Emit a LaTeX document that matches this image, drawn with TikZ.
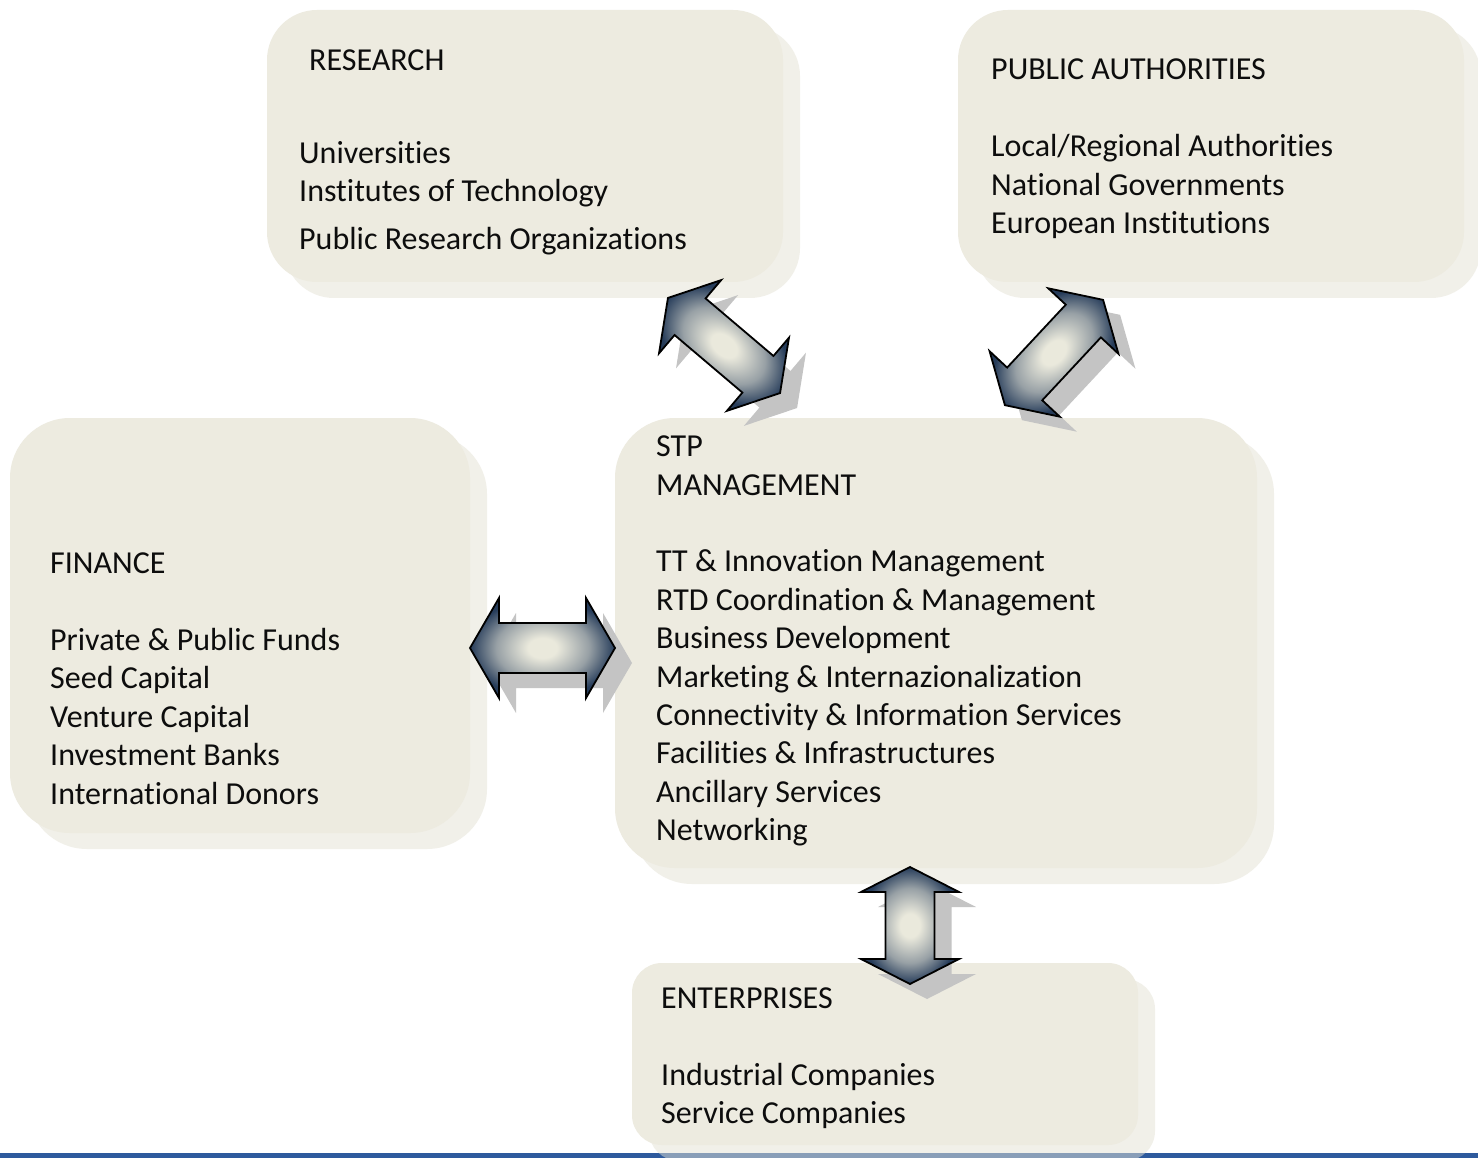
\documentclass[tikz,border=0pt]{standalone}
\usepackage{fontspec}
\setmainfont{Carlito}[RawFeature={-liga;-clig;-calt;-dlig}]
\usetikzlibrary{shadows}
\definecolor{boxfill}{HTML}{EDEBE0}
\definecolor{boxshadow}{HTML}{E4E2D4}
\definecolor{anavy}{HTML}{263C5A}
\definecolor{acream}{HTML}{EAE9DC}
\definecolor{ashadow}{HTML}{C4C4C4}
\definecolor{bluebar}{HTML}{2E5A9D}
\definecolor{txtc}{HTML}{0D0D0D}
\colorlet{amid}{anavy!42!acream}
\pgfdeclareradialshading{arrshade}{\pgfpointorigin}{color(0bp)=(acream); color(5bp)=(acream); color(16bp)=(amid); color(25bp)=(anavy); color(50bp)=(anavy)}
% #1 cx, #2 cy, #3 angle, #4 half length, #5 head length, #6 head half width, #7 shaft half width
\newcommand\blockarrow[7]{%
  \begin{scope}[transform canvas={shift={(#1+17,#2+15)},rotate=#3}]
    \fill[ashadow] (-#4,0) -- (-#4+#5,#6) -- (-#4+#5,#7) -- (#4-#5,#7) -- (#4-#5,#6) -- (#4,0)
      -- (#4-#5,-#6) -- (#4-#5,-#7) -- (-#4+#5,-#7) -- (-#4+#5,-#6) -- cycle;
  \end{scope}
  \begin{scope}[transform canvas={shift={(#1,#2)},rotate=#3}]
    \shade[shading=arrshade, draw=black, line width=1.8pt, line join=miter]
      (-#4,0) -- (-#4+#5,#6) -- (-#4+#5,#7) -- (#4-#5,#7) -- (#4-#5,#6) -- (#4,0)
      -- (#4-#5,-#6) -- (#4-#5,-#7) -- (-#4+#5,-#7) -- (-#4+#5,-#6) -- cycle;
  \end{scope}}
\tikzset{
  box/.style={rectangle, draw=none, fill=boxfill, inner sep=0pt,
    drop shadow={shadow xshift=17pt, shadow yshift=-16pt, fill=boxshadow, opacity=0.5}},
  txt/.style={anchor=base west, inner sep=0pt, text=txtc, font=\fontsize{32}{38}\selectfont}
}
\begin{document}
\begin{tikzpicture}[x=1pt, y=-1pt]
\useasboundingbox (0,0) rectangle (1478,1158);
\fill[white] (0,0) rectangle (1478,1158);
\fill[bluebar] (0,1153) rectangle (1478,1158);
% boxes
\node[box, minimum width=516pt, minimum height=272pt, rounded corners=50pt] (research) at (525,146) {};
\node[box, minimum width=506pt, minimum height=272pt, rounded corners=50pt] (public) at (1211,146) {};
\node[box, minimum width=460pt, minimum height=415pt, rounded corners=60pt] (finance) at (240,625.5) {};
\node[box, minimum width=642pt, minimum height=450pt, rounded corners=60pt] (stp) at (936,643) {};
\node[box, minimum width=506pt, minimum height=182pt, rounded corners=30pt] (enterprises) at (885,1054) {};
% block arrows
\blockarrow{724}{345.5}{-40.3}{73.5}{29}{48}{24}
\blockarrow{1054}{352.5}{47}{72}{29}{48}{24}
\blockarrow{542.5}{648}{0}{72.5}{29}{50}{25}
\blockarrow{910}{925.5}{90}{58.5}{25}{49}{24.5}
% texts
\node[txt] (rt) at (309,71) {RESEARCH};
\node[txt] (r1) at (299,164) {Universities};
\node[txt] (r2) at (299,202) {Institutes of Technology};
\node[txt] (r3) at (299,250) {Public Research Organizations};
\node[txt] (pt) at (991,80) {PUBLIC AUTHORITIES};
\node[txt] (p1) at (991,157) {Local/Regional Authorities};
\node[txt] (p2) at (991,196) {National Governments};
\node[txt] (p3) at (991,234) {European Institutions};
\node[txt] (ft) at (50,573) {FINANCE};
\node[txt] (f1) at (50,650) {Private \& Public Funds};
\node[txt] (f2) at (50,688) {Seed Capital};
\node[txt] (f3) at (50,727) {Venture Capital};
\node[txt] (f4) at (50,765) {Investment Banks};
\node[txt] (f5) at (50,804) {International Donors};
\node[txt] (st1) at (656,456) {STP};
\node[txt] (st2) at (656,495) {MANAGEMENT};
\node[txt] (s1) at (656,571) {TT \& Innovation Management};
\node[txt] (s2) at (656,610) {RTD Coordination \& Management};
\node[txt] (s3) at (656,648) {Business Development};
\node[txt] (s4) at (656,687) {Marketing \& Internazionalization};
\node[txt] (s5) at (656,725) {Connectivity \& Information Services};
\node[txt] (s6) at (656,763) {Facilities \& Infrastructures};
\node[txt] (s7) at (656,802) {Ancillary Services};
\node[txt] (s8) at (656,840) {Networking};
\node[txt] (et) at (661,1008) {ENTERPRISES};
\node[txt] (e1) at (661,1085) {Industrial Companies};
\node[txt] (e2) at (661,1123) {Service Companies};
\end{tikzpicture}
\end{document}
